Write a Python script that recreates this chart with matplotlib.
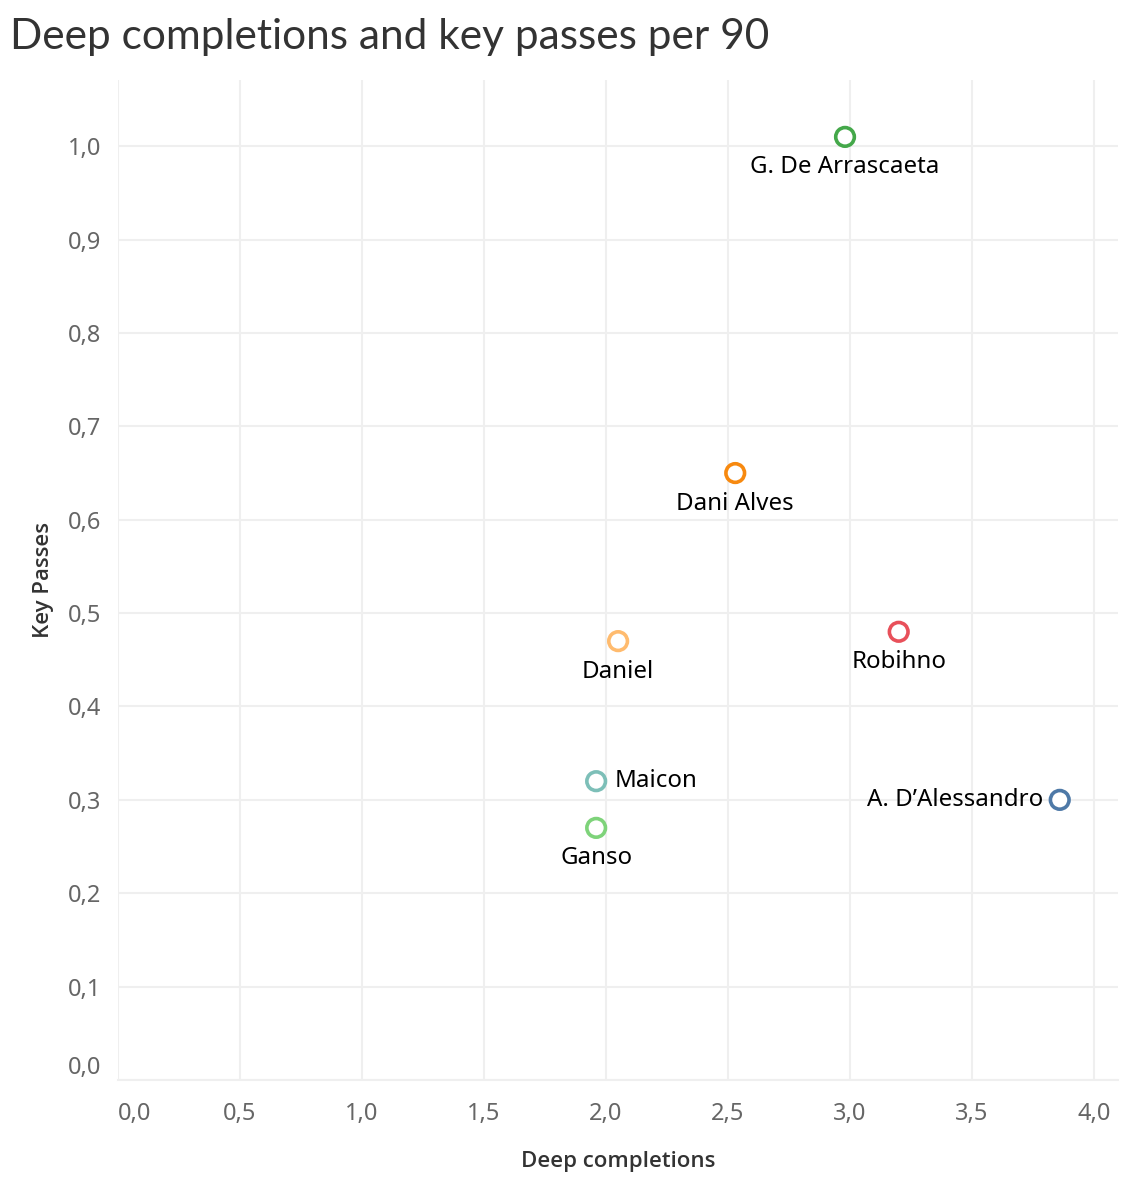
import matplotlib.pyplot as plt
from matplotlib.ticker import FuncFormatter

plt.rcParams['font.family'] = ['Noto Sans', 'DejaVu Sans']

players = ['G. De Arrascaeta', 'Dani Alves', 'Daniel', 'Robihno', 'Maicon', 'Ganso', 'A. D\u2019Alessandro']
deep_completions = [2.98, 2.53, 2.05, 3.20, 1.96, 1.96, 3.86]
key_passes = [1.01, 0.65, 0.47, 0.48, 0.32, 0.27, 0.30]
colors = ['#44a84a', '#f7890f', '#ffbb6e', '#e8505a', '#7dbfb8', '#7ed37a', '#4e79a7']
label_side = ['below', 'below', 'below', 'below', 'right', 'below', 'left']

fig = plt.figure(figsize=(11.44, 12.02), dpi=100)
ax = fig.add_axes([0.1031, 0.1015, 0.874, 0.832])

ax.scatter(deep_completions, key_passes, s=180, facecolors='white',
           edgecolors=colors, linewidths=2.6, zorder=3)

for name, x, y, side in zip(players, deep_completions, key_passes, label_side):
    if side == 'below':
        ax.annotate(name, (x, y), xytext=(0, -22), textcoords='offset points',
                    ha='center', va='center', fontsize=17.3)
    elif side == 'right':
        ax.annotate(name, (x, y), xytext=(13, 0), textcoords='offset points',
                    ha='left', va='center', fontsize=17.3)
    else:
        ax.annotate(name, (x, y), xytext=(-12, 0), textcoords='offset points',
                    ha='right', va='center', fontsize=17.3)

ax.set_xlim(0, 4.098)
ax.set_ylim(0, 1.071)
ax.set_xticks([0, 0.5, 1, 1.5, 2, 2.5, 3, 3.5, 4])
ax.set_yticks([i / 10 for i in range(11)])
comma = FuncFormatter(lambda v, p: f'{v:.1f}'.replace('.', ','))
ax.xaxis.set_major_formatter(comma)
ax.yaxis.set_major_formatter(comma)
ax.tick_params(length=0, labelsize=17, labelcolor='#666666')
ax.tick_params(axis='y', pad=12)
ax.tick_params(axis='x', pad=16)
ax.grid(True, color='#efefef', linewidth=1.5)
ax.set_axisbelow(True)
for s in ['top', 'right', 'left']:
    ax.spines[s].set_visible(False)
ax.spines['bottom'].set_color('#efefef')
ax.spines['bottom'].set_linewidth(1.5)

# first tick labels are nudged inside like in the original
fig.canvas.draw()
ax.get_xticklabels()[0].set_horizontalalignment('left')
ax.get_yticklabels()[0].set_verticalalignment('bottom')

ax.set_xlabel('Deep completions', fontsize=16, color='#333333', fontweight='semibold',
              labelpad=18, family=['Open Sans', 'DejaVu Sans'])
ax.set_ylabel('Key Passes', fontsize=16, color='#333333', fontweight='semibold',
              labelpad=10, family=['Open Sans', 'DejaVu Sans'])

fig.text(0.009, 0.969, 'Deep completions and key passes per 90', fontsize=30.5,
         color='#333333', fontweight='normal', va='center', family=['Lato', 'DejaVu Sans'])

fig.savefig('out.png', dpi=100)
